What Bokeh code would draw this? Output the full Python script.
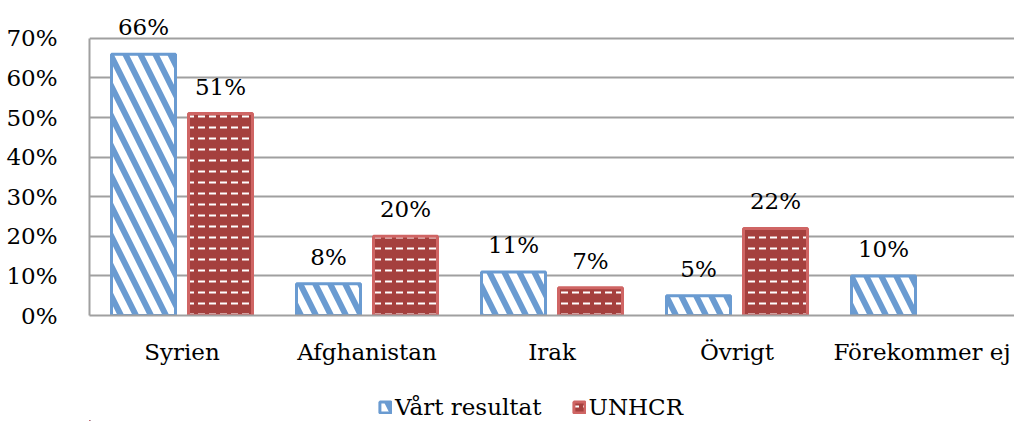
from bokeh.plotting import figure
from bokeh.layouts import column
from bokeh.models import ColumnDataSource, FixedTicker, Range1d, Legend, LegendItem
from bokeh.embed import file_html
from bokeh.resources import INLINE
from bokeh.core.properties import value

categories = ["Syrien", "Afghanistan", "Irak", "Övrigt", "Förekommer ej"]
vart_resultat = [66, 8, 11, 5, 10]
unhcr = [51, 20, 7, 22, None]
y_ticks = [0, 10, 20, 30, 40, 50, 60, 70]
series_names = ["Vårt resultat", "UNHCR"]

FONT = "DejaVu Serif"
FS = "23px"
BLUE = "#6a9bd1"
RED_FILL = "#a5403e"
RED_LINE = "#cf6564"
GRID = "#a0a0a0"

blue_style = dict(fill_color="white", line_color=BLUE, line_width=3,
                  hatch_pattern="\\", hatch_color=BLUE, hatch_scale=30, hatch_weight=6)
red_style = dict(fill_color=RED_FILL, line_color=RED_LINE, line_width=3,
                 hatch_pattern='"', hatch_color="white", hatch_scale=11, hatch_weight=2)

xc = [i + 0.5 for i in range(len(categories))]
off = 0.208
bw = 0.346

p = figure(width=1014, height=367, output_backend="svg", toolbar_location=None,
           x_range=Range1d(0, 5), y_range=Range1d(0, 77.3),
           min_border_left=89, min_border_right=0, min_border_top=9, min_border_bottom=50)
p.outline_line_color = None
p.background_fill_color = "white"

src_b = ColumnDataSource(dict(x=[c - off for c in xc], top=vart_resultat,
                              lab=[f"{v}%" for v in vart_resultat]))
ux = [c + off for c, v in zip(xc, unhcr) if v is not None]
uv = [v for v in unhcr if v is not None]
src_r = ColumnDataSource(dict(x=ux, top=uv, lab=[f"{v}%" for v in uv]))

p.vbar(x="x", top="top", width=bw, bottom=0, source=src_b, **blue_style)
p.vbar(x="x", top="top", width=bw, bottom=0, source=src_r, **red_style)

for src in (src_b, src_r):
    p.text(x="x", y="top", text="lab", source=src, text_align="center", text_baseline="middle",
           y_offset=-27, text_font=value(FONT), text_font_size=FS, text_color="black")

p.yaxis.ticker = FixedTicker(ticks=y_ticks)
p.yaxis.bounds = (0, 70)
p.yaxis.major_label_overrides = {t: f"{t}%" for t in y_ticks}
p.yaxis.major_label_text_font = FONT
p.yaxis.major_label_text_font_size = FS
p.yaxis.major_label_text_color = "black"
p.yaxis.major_label_standoff = 26
p.yaxis.major_tick_line_color = None
p.yaxis.minor_tick_line_color = None
p.yaxis.axis_line_color = GRID
p.yaxis.axis_line_width = 2

p.xaxis.ticker = FixedTicker(ticks=xc)
p.xaxis.major_label_overrides = {c: n for c, n in zip(xc, categories)}
p.xaxis.major_label_text_font = FONT
p.xaxis.major_label_text_font_size = FS
p.xaxis.major_label_text_color = "black"
p.xaxis.major_label_standoff = 17
p.xaxis.major_tick_line_color = None
p.xaxis.minor_tick_line_color = None
p.xaxis.axis_line_color = GRID
p.xaxis.axis_line_width = 2

p.xgrid.grid_line_color = None
p.ygrid.ticker = FixedTicker(ticks=y_ticks)
p.ygrid.grid_line_color = GRID
p.ygrid.grid_line_width = 2

# legend strip below the chart (bars lie far outside its view, only their legend swatches show)
lg = figure(width=1014, height=54, output_backend="svg", toolbar_location=None,
            x_range=Range1d(100, 101), y_range=Range1d(1000, 1001), x_axis_type=None, y_axis_type=None,
            min_border_left=0, min_border_right=0, min_border_top=0, min_border_bottom=0)
lg.outline_line_color = None
lg.xgrid.visible = False
lg.ygrid.visible = False
lb = lg.vbar(x="x", top="top", width=bw, bottom=0, source=src_b, **blue_style)
lr = lg.vbar(x="x", top="top", width=bw, bottom=0, source=src_r, **red_style)
legend = Legend(items=[LegendItem(label=series_names[0], renderers=[lb]),
                       LegendItem(label=series_names[1], renderers=[lr])],
                orientation="horizontal", location=(289, 1),
                label_text_font=FONT, label_text_font_size=FS, label_text_color="black",
                glyph_width=14, glyph_height=14, spacing=30, label_standoff=3,
                border_line_color=None, background_fill_alpha=0, padding=0, margin=0)
lg.add_layout(legend, "center")

layout = column(p, lg, spacing=0)
open("out.html", "w").write(file_html(layout, INLINE))
